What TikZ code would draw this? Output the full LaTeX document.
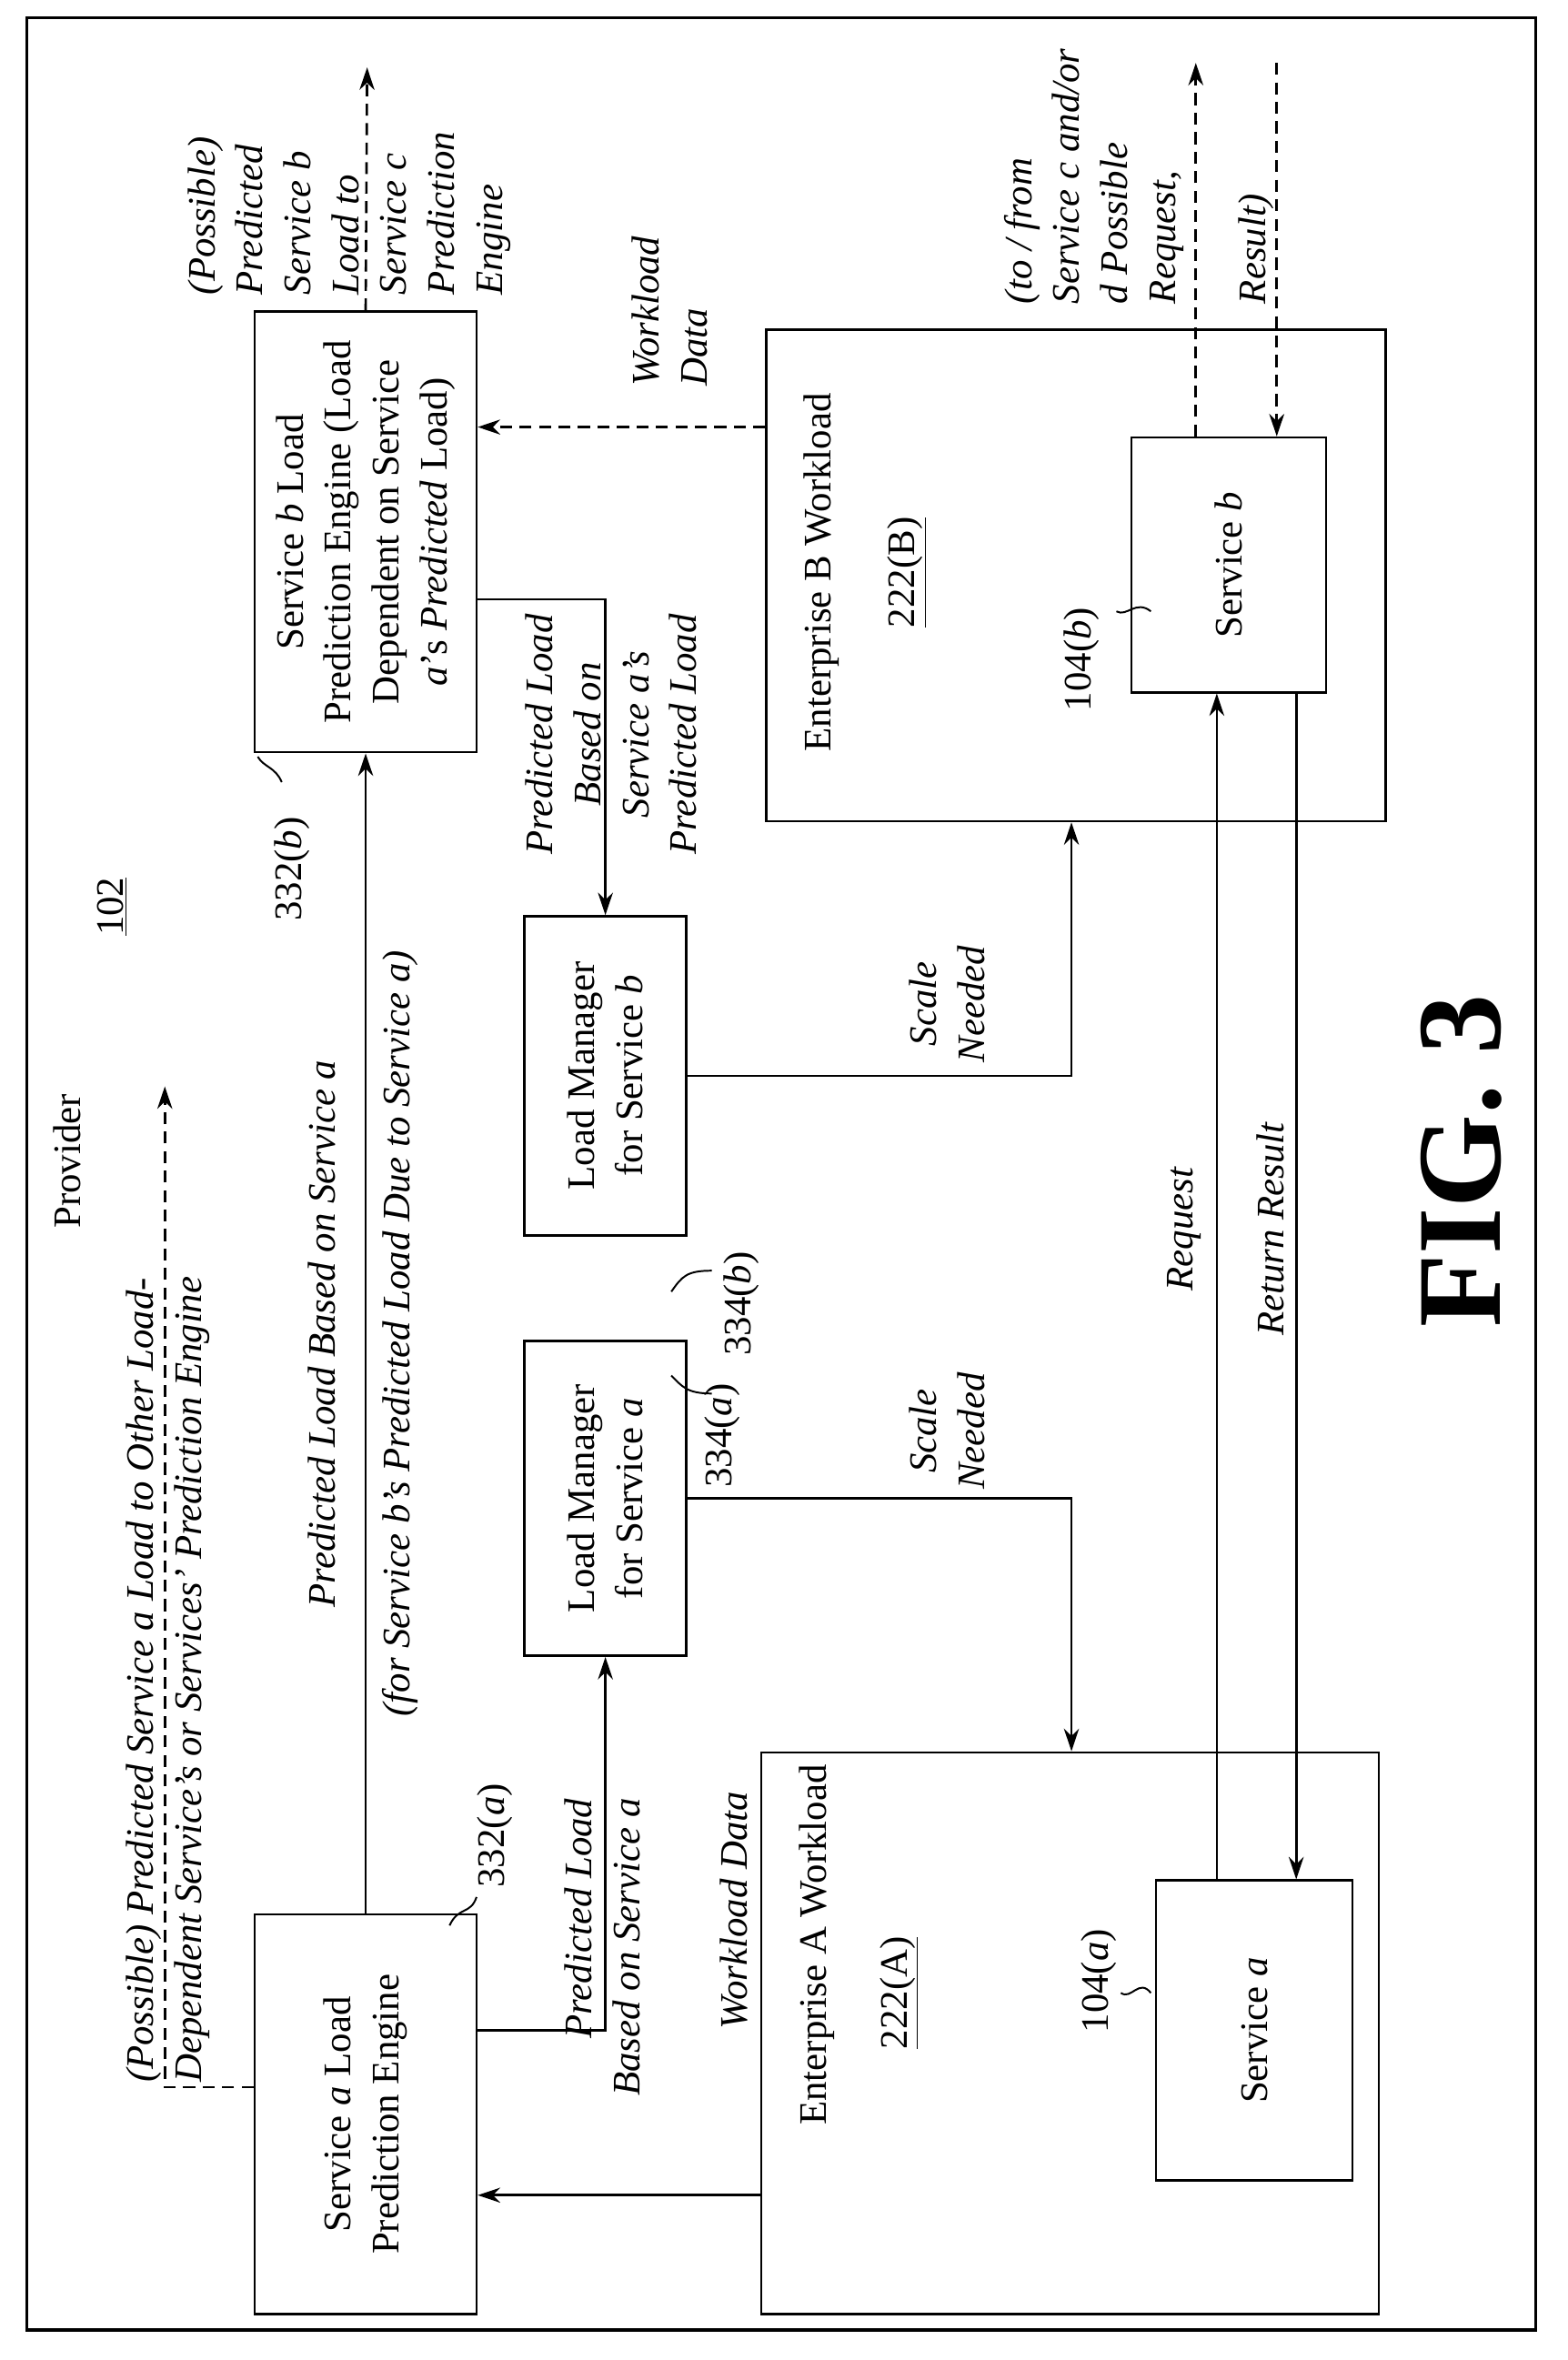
\documentclass[tikz,border=0pt]{standalone}
\usepackage{fontspec}
\setmainfont{Liberation Serif}
\usetikzlibrary{arrows.meta,calc}
\begin{document}
\begin{tikzpicture}[x=1pt,y=-1pt,
  box/.style={draw,line width=1.6pt,inner sep=0pt},
  rt/.style={rotate=90,font=\fontsize{26}{32}\selectfont,inner sep=0pt},
  tip/.style={-{Stealth[length=15pt,width=10pt]}},
  ln/.style={line width=1.6pt},
  dsh/.style={line width=1.6pt,dash pattern=on 8pt off 5pt},
  tick/.style={line width=1.2pt}]
\useasboundingbox (0,0) rectangle (1046,1575);
\draw[line width=2pt] (18,12) rectangle (1025,1555);
% boxes
\node[box,minimum width=148pt,minimum height=267pt] (ea) at (244,1411) {};
\node[box,minimum width=148pt,minimum height=294pt] (eb) at (244,355) {};
\node[box,minimum width=108pt,minimum height=210pt] (lma) at (404,1000) {};
\node[box,minimum width=108pt,minimum height=213pt] (lmb) at (404,718) {};
\node[box,minimum width=412pt,minimum height=375pt] (wa) at (714,1357) {};
\node[box,minimum width=413pt,minimum height=328pt] (wb) at (718,384) {};
\node[box,minimum width=131pt,minimum height=200pt] (sa) at (837,1355) {};
\node[box,minimum width=130pt,minimum height=170pt] (sb) at (820,377) {};
% box texts
\node[rt,align=center] (tea) at (ea) {Service \textit{a} Load\\Prediction Engine};
\node[rt,align=center] (teb) at (eb) {Service \textit{b} Load\\Prediction Engine (Load\\Dependent on Service\\\textit{a}'s \textit{Predicted} Load)};
\node[rt,align=center] (tla) at (lma) {Load Manager\\for Service \textit{a}};
\node[rt,align=center] (tlb) at (lmb) {Load Manager\\for Service \textit{b}};
\node[rt] (twa) at (545,1298) {Enterprise A Workload};
\node[rt] (tna) at (600,1330) {\underline{222(A)}};
\node[rt] (twb) at (548,382) {Enterprise B Workload};
\node[rt] (tnb) at (605,382) {\underline{222(B)}};
\node[rt] (tsa) at (sa) {Service \textit{a}};
\node[rt] (tsb) at (sb) {Service \textit{b}};
% plain labels
\node[rt] (prov) at (45,775) {Provider};
\node[rt] (n102) at (75,605) {\underline{102}};
\node[rt] (l332a) at (330,1225) {332(\textit{a})};
\node[rt] (l332b) at (195,580) {332(\textit{b})};
\node[rt] (l334a) at (482,958) {334(\textit{a})};
\node[rt] (l334b) at (495,870) {334(\textit{b})};
\node[rt] (l104a) at (733,1322) {104(\textit{a})};
\node[rt] (l104b) at (722,440) {104(\textit{b})};
\node[rt] (fig) at (975,775) {\fontsize{80}{86}\selectfont\bfseries FIG. 3};
% ticks
\draw[tick] (300,1285) .. controls (306,1272) and (314,1278) .. (318,1266);
\draw[tick] (188,522) .. controls (184,512) and (176,512) .. (172,505);
\draw[tick] (448,918) .. controls (455,925) and (458,930) .. (475,930);
\draw[tick] (448,862) .. controls (455,852) and (458,848) .. (475,848);
\draw[tick] (768,1330) .. controls (760,1320) and (755,1335) .. (748,1330);
\draw[tick] (768,408) .. controls (758,400) and (752,412) .. (745,408);
% connectors
\draw[ln,tip] (ea.north) -- (eb.south);
\node[rt] (lbl1) at (215,890) {\textit{Predicted Load Based on Service a}};
\node[rt] (lbl2) at (267,890) {\textit{(for Service b's Predicted Load Due to Service a)}};
\draw[ln,tip] (ea.east |- 0,1355) -| (lma.south);
\node[rt,align=right,anchor=east] (lbl3) at (402,1200) {\textit{Predicted Load}\\\textit{Based on Service a}};
\draw[ln,tip] (eb.east |- 0,400) -| (lmb.north);
\node[rt,align=center] (lbl4) at (408,490) {\textit{Predicted Load}\\\textit{Based on}\\\textit{Service a's}\\\textit{Predicted Load}};
\draw[ln,tip] (lma.east) -| (wa.north -| 715,0);
\node[rt,align=center] (lbl5) at (632,955) {\textit{Scale}\\\textit{Needed}};
\draw[ln,tip] (lmb.east) -| (wb.south -| 715,0);
\node[rt,align=center] (lbl6) at (632,670) {\textit{Scale}\\\textit{Needed}};
\draw[ln,tip] (wa.west |- 0,1465) -- (ea.east |- 0,1465);
\node[rt] (lbl7) at (490,1275) {\textit{Workload Data}};
\draw[dsh,tip] (wb.west |- 0,285) -- (eb.east |- 0,285);
\node[rt,align=left,anchor=west] (lbl8) at (447,258) {\textit{Workload}\\\textit{Data}};
\draw[ln,tip] (sa.north -| 812,0) -- (sb.south -| 812,0);
\node[rt] (lbl9) at (790,820) {\textit{Request}};
\draw[ln,tip] (sb.south -| 865,0) -- (sa.north -| 865,0);
\node[rt] (lbl10) at (848,820) {\textit{Return Result}};
% dashed outgoing
\coordinate (c1) at (110,725);
\coordinate (c2) at (245,45);
\coordinate (c3) at (798,42);
\coordinate (c4) at (852,42);
\draw[dsh,tip] (ea.west |- 0,1393) -| (c1);
\node[rt,align=left,anchor=west] (lbl11) at (112,1390) {\textit{(Possible) Predicted Service a Load to Other Load-}\\\textit{Dependent Service's or Services' Prediction Engine}};
\draw[dsh,tip] (eb.north) -- (c2);
\node[rt,align=left,anchor=west] (lbl12) at (233,197) {\textit{(Possible)}\\\textit{Predicted}\\\textit{Service b}\\\textit{Load to}\\\textit{Service c}\\\textit{Prediction}\\\textit{Engine}};
\draw[dsh,tip] (sb.north -| c3) -- (c3);
\draw[dsh,tip] (c4) -- (sb.north -| c4);
\node[rt,align=left,anchor=west] (lbl13) at (730,203) {\textit{(to / from}\\\textit{Service c and/or}\\\textit{d Possible}\\\textit{Request,}};
\node[rt,anchor=west] (lbl14) at (838,203) {\textit{Result)}};
\end{tikzpicture}
\end{document}
